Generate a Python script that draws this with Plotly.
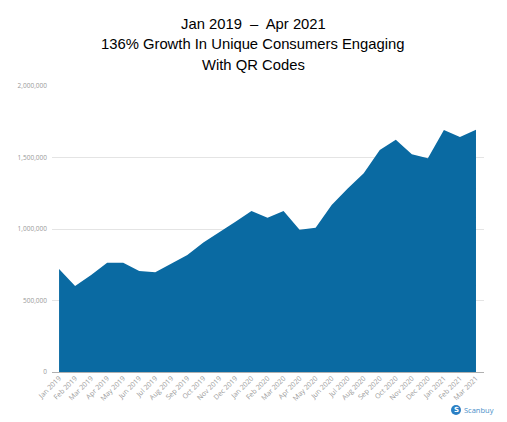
import plotly.graph_objects as go

# monthly unique consumers
months = ["Jan 2019", "Feb 2019", "Mar 2019", "Apr 2019", "May 2019", "Jun 2019",
          "Jul 2019", "Aug 2019", "Sep 2019", "Oct 2019", "Nov 2019", "Dec 2019",
          "Jan 2020", "Feb 2020", "Mar 2020", "Apr 2020", "May 2020", "Jun 2020",
          "Jul 2020", "Aug 2020", "Sep 2020", "Oct 2020", "Nov 2020", "Dec 2020",
          "Jan 2021", "Feb 2021", "Mar 2021"]
consumers = [720000, 601000, 678000, 764000, 764000, 706000,
             697000, 760000, 818000, 905000, 975000, 1050000,
             1126000, 1079000, 1126000, 995000, 1009000, 1168000,
             1284000, 1389000, 1552000, 1625000, 1522000, 1494000,
             1692000, 1643000, 1694000]
y_ticks = [0, 500000, 1000000, 1500000, 2000000]
title_lines = ["Jan 2019  \u2013  Apr 2021",
               "136% Growth In Unique Consumers Engaging",
               "With QR Codes"]

BLUE = "#0a6aa2"
GREY = "#9a9a9a"
W, H = 507, 422
OFF = 8  # page body margin shifts the figure by this much
# plot box in screen pixels: x 52..484, y 86..372
L, T = 52 - OFF, 86 - OFF
R, B = W - (484 - OFF), H - (372 - OFF)

fig = go.Figure()
fig.add_trace(go.Scatter(x=months, y=consumers, mode="lines", fill="tozeroy",
                         line=dict(color=BLUE, width=0), fillcolor=BLUE,
                         hoverinfo="x+y"))

fig.update_layout(
    width=W, height=H,
    margin=dict(l=L, r=R, t=T, b=B, autoexpand=False),
    paper_bgcolor="white", plot_bgcolor="white",
    showlegend=False,
    font=dict(family="Liberation Sans, Arial, sans-serif"),
)
fig.update_xaxes(type="category", range=[-0.44, 26.5], tickangle=-45, automargin=False,
                 showgrid=False, showline=False, ticks="",
                 tickfont=dict(size=7, color=GREY, family="Open Sans, sans-serif"))
fig.update_yaxes(range=[0, 2000000], tickvals=y_ticks, tickformat=",d", automargin=False,
                 showgrid=True, gridcolor="#e4e4e4", gridwidth=1,
                 zeroline=True, zerolinecolor="#b0b0b0", zerolinewidth=1,
                 ticks="", ticklabelstandoff=4,
                 tickfont=dict(size=6.5, color=GREY, family="Open Sans, sans-serif"))


def px(xs, ys):
    # screen pixel -> paper coords
    return (xs - OFF - L) / (W - L - R), (H - B - (ys - OFF)) / (H - T - B)


# title as three centred lines
for line, ypx in zip(title_lines, [24, 44, 65]):
    ax, ay = px(253, ypx)
    fig.add_annotation(text=line, xref="paper", yref="paper", x=ax, y=ay,
                       xanchor="center", yanchor="middle", showarrow=False,
                       font=dict(size=14.8, color="black"))

# Scanbuy logo, bottom right
cx0, cy0 = px(451, 415)
cx1, cy1 = px(461, 405)
fig.add_shape(type="circle", xref="paper", yref="paper", layer="below",
              x0=cx0, x1=cx1, y0=cy0, y1=cy1,
              fillcolor="#2a7fc4", line=dict(width=0))
sx, sy = px(456, 410)
fig.add_annotation(text="<b>S</b>", xref="paper", yref="paper", x=sx, y=sy,
                   xanchor="center", yanchor="middle", showarrow=False,
                   font=dict(size=7, color="white", family="DejaVu Sans"))
tx, ty = px(462, 410)
fig.add_annotation(text="Scanbuy", xref="paper", yref="paper", x=tx, y=ty,
                   xanchor="left", yanchor="middle", showarrow=False,
                   font=dict(size=7.5, color="#4a8fc9", family="Open Sans, sans-serif"))

fig.write_html("out.html")
